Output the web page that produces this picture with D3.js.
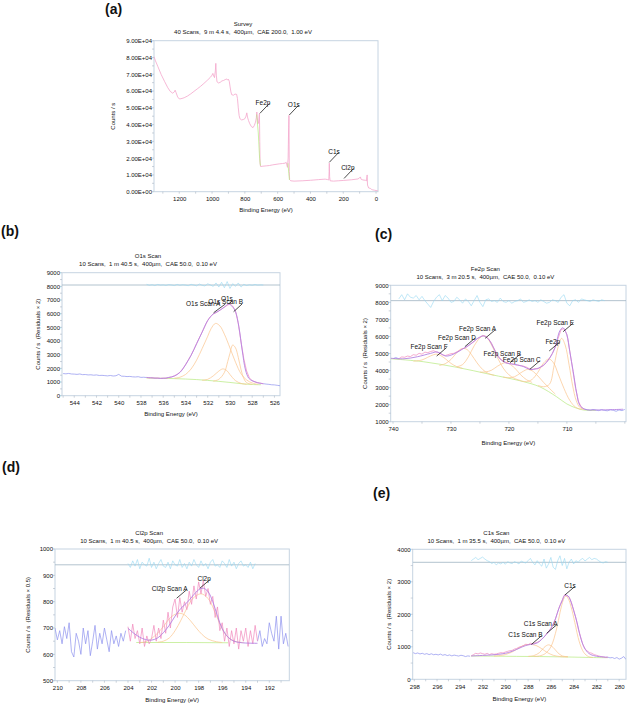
<!DOCTYPE html>
<html><head><meta charset="utf-8">
<script src="https://cdn.jsdelivr.net/npm/d3@7/dist/d3.min.js"></script>
<style>
body{margin:0;background:#fff}
svg{display:block}
text{font-family:"Liberation Sans",Arial,sans-serif;fill:#111}
</style>
</head><body>
<svg id="chart" width="628" height="705"></svg>
<script>
// ---------------- DATA ----------------
// (a) Survey spectrum [binding energy eV, counts/s]
const surveySpectrum = [[1354,80500],[1345,78000],[1330,74500],[1310,69800],[1290,65800],[1270,62000],[1255,59800],[1240,58700],[1230,59500],[1225,60500],[1220,59200],[1210,56500],[1200,55300],[1190,55400],[1170,56000],[1150,57000],[1130,58300],[1110,59800],[1090,61300],[1070,62800],[1050,64500],[1030,66300],[1010,68200],[1000,69500],[995,70500],[990,69000],[985,68000],[980,72000],[977,76500],[974,69500],[970,65500],[960,64800],[950,65200],[940,66000],[930,66300],[920,66800],[910,67200],[905,66500],[900,67000],[895,65800],[890,62500],[885,59500],[880,57800],[870,57500],[860,58200],[850,58000],[845,55500],[840,50000],[835,45500],[830,43500],[820,42800],[810,43000],[800,43500],[793,45000],[788,47000],[784,44500],[778,42500],[770,40500],[760,38800],[750,38200],[742,39500],[735,41500],[730,44000],[727,47500],[724,44000],[720,40500],[716,41500],[713,45000],[711,46500],[709,30000],[707,17000],[704,15000],[690,15200],[670,15400],[650,15600],[630,16000],[610,16300],[590,16600],[570,16800],[555,17000],[548,17500],[544,16000],[540,14500],[536,20000],[533,38000],[531,45500],[529,12000],[527,7200],[520,6500],[500,6300],[450,6500],[400,6800],[350,7200],[310,7500],[295,7200],[288,7000],[286,12000],[285,17000],[283,9000],[280,6500],[260,6300],[230,6500],[200,6700],[150,7100],[110,7600],[100,8300],[95,8800],[92,7500],[80,7000],[65,6800],[58,6500],[56,9000],[54,10000],[52,4000],[45,2200],[35,2000],[28,1400],[20,1100],[10,900],[0,700],[-10,600]];
const surveyFeBackground = [[728,46000],[718,35000],[710,20000],[705,15500]];
const surveyOBackground = [[537,17000],[532,11000],[528,7000]];
const surveyLabels = ["Fe2p","O1s","C1s","Cl2p"];
const surveyLabelAt = [[708,46700],[529,45700],[285,17500],[195,7900]];

// (b) O1s
const o1sRawBlueLeft = [1620,1600,1630,1590,1580,1560,1590,1540,1550,1520,1530,1500,1520,1480,1490,1470,1450,1480,1440,1460,1560,1430,1420,1400,1410,1380,1370,1390,1340,1350,1330]; // 545.0 -> 537.5
const o1sRawPink = [1330,1300,1320,1280,1300,1260,1290,1270,1340,1370,1450,1560,1720,1960,2260,2610,2950,3360,3810,4240,4660,5090,5510,5790,5990,6070,6210,6340,6490,6610,6710,6560,6190,5290,3920,2690,1810,1310,1090,1010,940,910,870]; // 537.5 -> 527.0
const o1sRawBlueRight = [880,850,830,800,790,760,730]; // 527.0 -> 525.5
const o1sEnvelope = [[537.5,1340],[537,1300],[536.5,1280],[536,1270],[535.5,1330],[535,1440],[534.5,1700],[534,2250],[533.5,2950],[533,3800],[532.5,4650],[532,5500],[531.5,5980],[531,6200],[530.5,6480],[530.1,6710],[529.8,6530],[529.5,6150],[529.2,5050],[528.9,3340],[528.6,1880],[528.3,1270],[528,1100],[527.5,950],[527,880]];
const o1sBackground = [[537.5,1290],[536,1270],[535,1250],[534,1220],[533,1180],[532,1120],[531,1050],[530,970],[529,880],[528,820],[527.2,800]];
const o1sCompA = [[535,1280],[534.5,1350],[534,1550],[533.5,1950],[533,2600],[532.5,3450],[532,4350],[531.7,4900],[531.3,5290],[530.9,5100],[530.5,4500],[530,3500],[529.5,2450],[529,1600],[528.5,1150],[528,930],[527.5,830]];
const o1sCompB = [[531.5,1060],[531,1200],[530.5,1700],[530.2,2500],[530,3100],[529.75,3710],[529.5,3500],[529.25,2800],[529,1900],[528.75,1250],[528.5,950],[528,830]];
const o1sCompC = [[532.5,1130],[532,1200],[531.5,1450],[531,1800],[530.65,1960],[530.3,1850],[530,1550],[529.5,1100],[529,900],[528.5,830]];
const o1sResidual = [8150,8080,8120,8060,8140,8090,8110,8070,8130,8100,8060,8140,8080,8120,8090,8050,8150,8100,8040,8170,8080,8030,8190,8100,8000,8250,7950,8300,7900,8350,7850,8200,8000,8250,7950,8150,8060,8120,8080,8140,8090,8110,8100]; // 537.5 -> 527.0
const o1sLabels = ["O1s Scan A","O1s Scan B","O1s"];
const o1sLabelAt = [[531.47,6070],[529.67,6145],[530.1,6710]];

// (c) Fe2p
const fe2pRaw = [4700,4760,4690,4800,4780,4850,4820,4930,4900,5010,4960,5080,5050,5120,5160,5090,5030,4940,4880,4930,4990,5010,5100,5180,5280,5330,5450,5580,5700,5860,5950,6060,6010,5850,5600,5250,4930,4700,4560,4480,4420,4390,4350,4320,4280,4260,4200,4110,4060,4120,4100,4200,4300,4480,4720,5000,5380,5900,6400,6460,6120,5150,4050,2950,2200,1850,1740,1700,1660,1720,1680,1650,1710,1660,1640,1700,1670,1610,1690,1650,1720]; // 740 -> 700
const fe2pEnvelope = [[740.4,4720],[738.1,4690],[735.8,4810],[733.5,5010],[732.4,5090],[730.9,4850],[729.5,4970],[728.1,5240],[726.6,5560],[725.4,5890],[724.4,6030],[723.5,5830],[722.6,5290],[721.8,4780],[720.6,4460],[719.2,4370],[717.8,4270],[716.3,4070],[715.2,4110],[714,4330],[713,4720],[712.1,5310],[711.2,6340],[710.7,6510],[710,6090],[709.5,5110],[708.9,3930],[708.3,2660],[707.8,1980],[706.9,1730],[704.9,1690],[700.3,1730]];
const fe2pBackground = [[740.4,4690],[734.8,4520],[729,4190],[723.3,3780],[717.5,3350],[714.7,3050],[711.8,2470],[710,2040],[708.3,1790],[707.2,1690],[705,1660]];
const fe2pCompF = [[736.5,4550],[735,4620],[734,4780],[733,4930],[732.5,4960],[732,4920],[731,4700],[730,4420],[729,4230],[728,4130]];
const fe2pCompD = [[732,4300],[731,4400],[730,4650],[729,5050],[728.3,5260],[727.8,5300],[727.2,5230],[726.5,4950],[725.5,4450],[724.5,4050],[723.5,3820],[722.5,3720]];
const fe2pCompA = [[729,4220],[728,4350],[727,4800],[726,5450],[725,5920],[724.4,6030],[723.8,5930],[723,5500],[722,4780],[721,4150],[720,3750],[719,3530],[718,3420]];
const fe2pCompB = [[725,3910],[724,3920],[723,4020],[722,4250],[721,4430],[720.6,4460],[720,4400],[719,4150],[718,3760],[717,3470],[716,3300]];
const fe2pCompC = [[721,3620],[720,3580],[719,3640],[718,3860],[717,4050],[716.7,4070],[716,3990],[715,3680],[714,3300],[713,2950],[712,2620]];
const fe2pCompMain = [[718,3400],[717,3350],[716,3480],[715,3900],[714,4450],[713.1,4680],[712.3,4450],[711.5,3800],[710.5,2950],[709.5,2250],[708.5,1850],[707.5,1720]];
const fe2pCompE = [[715,3130],[714,3050],[713,3200],[712.2,4300],[711.5,5400],[710.9,5890],[710.3,5500],[709.6,4300],[709,3100],[708.4,2250],[707.8,1850],[707,1700]];
const fe2pResidual = [8200,8450,8150,8500,8300,8250,8400,8150,8350,8100,7900,7700,8050,8300,8450,8100,8400,8250,8000,8050,8300,8150,7950,8200,8050,7800,8100,8400,8000,7750,8150,8200,8050,8100,8000,8250,8050,8000,8100,7950,8050,8100,8200,8000,8050,8150,8050,8100,8000,8150,8050,7950,8000,8150,8100,8000,8300,8450,7950,7800,8100,8150,8000,8200,8150,8100,8050,8150,8100,8050,8150,8100]; // 739 -> 703.5
const fe2pLabels = ["Fe2p Scan F","Fe2p Scan D","Fe2p Scan A","Fe2p Scan B","Fe2p Scan C","Fe2p","Fe2p Scan E"];
const fe2pLabelAt = [[732.47,4850],[727.6,5400],[724.1,5890],[719.8,4460],[716.4,4070],[713.05,5150],[710.65,6280]];

// (d) Cl2p
const cl2pRawBlueLeft = [700,655,690,640,705,660,720,610,590,680,650,600,700,640,690,595,650,710,620,680,640,700,655,610,690,640,670,630,680,650,690]; // 210.2 -> 204.2
const cl2pRawPink = [705,650,715,660,690,640,700,630,670,640,660,710,650,700,660,730,680,760,700,780,810,740,815,760,800,770,840,790,860,810,875,830,880,820,850,790,820,740,780,690,720,650,700,630,690,640,700,620,690,650,700,630,690,640,710,650]; // 204 -> 193
const cl2pRawBlueRight = [650,690,630,660,640,720,680,650,745,620,745,640,680,630]; // 193 -> 190.4
const cl2pEnvelope = [[204,699],[203.5,680],[203,665],[202.5,656],[202,654],[201.5,662],[201,682],[200.5,710],[200,745],[199.5,775],[199,796],[198.5,822],[198,845],[197.6,851],[197.2,838],[196.8,800],[196.4,745],[196,698],[195.5,665],[195,650],[194.5,645],[194,643],[193,642]];
const cl2pBackground = [[203.3,645],[199,645],[195.5,644]];
const cl2pCompA = [[203,645],[202.5,648],[202,660],[201.5,680],[201,705],[200.5,735],[200,752],[199.6,756],[199.2,750],[198.7,728],[198.2,700],[197.7,675],[197.2,658],[196.5,648],[196,645]];
const cl2pCompMain = [[201.5,646],[201,650],[200.5,662],[200,690],[199.5,730],[199,775],[198.5,812],[197.8,830],[197.2,812],[196.7,770],[196.2,715],[195.7,675],[195.2,655],[194.7,647],[194.2,645]];
const cl2pResidual = [945,930,955,935,960,925,950,940,935,965,930,950,925,945,960,935,930,950,925,955,940,935,960,930,945,925,950,935,960,940,930,955,935,945,925,950,960,935,940,930,955,945,930,960,935,950,925,945,955,935,940,930,950,925,945]; // 204 -> 193.2
const cl2pLabels = ["Cl2p Scan A","Cl2p"];
const cl2pLabelAt = [[199.87,813],[197.9,851]];

// (e) C1s
const c1sRawBlueLeft = [820,790,810,780,800,770,790,760,785,755,770,750,775,740,760,730,750,720,745,730,715,740,725,700,720,710]; // 298.1 -> 293.1
const c1sRawPink = [720,760,800,780,810,790,770,800,760,790,770,780,800,820,810,840,860,880,890,930,950,990,1010,1040,1080,1060,1110,1090,1120,1140,1170,1240,1300,1390,1470,1570,1700,1850,2080,2280,2440,2600,2570,2540,2370,2130,1880,1560,1320,1080,930,870,820,800,760,740,720,700,690,670,680]; // 293 -> 281
const c1sRawBlueRight = [680,660,670,640,670,620,650,700,610]; // 281 -> 279.4
const c1sEnvelope = [[293,718],[292,735],[291,755],[290,800],[289.5,850],[289,920],[288.5,1000],[288,1060],[287.6,1080],[287.2,1120],[286.8,1230],[286.4,1380],[286,1560],[285.6,1860],[285.3,2180],[285,2420],[284.8,2580],[284.6,2590],[284.4,2520],[284.2,2350],[284,2120],[283.7,1750],[283.4,1300],[283.1,1000],[282.8,840],[282.5,760],[282,710],[281.5,690],[281,680]];
const c1sBackground = [[293,718],[291,712],[289,705],[287,700],[285,690],[283,675],[282,668],[281,665]];
const c1sCompMain = [[287.5,705],[287,720],[286.5,790],[286,1000],[285.5,1550],[285.2,2050],[284.9,2450],[284.7,2560],[284.5,2500],[284.2,2200],[283.9,1750],[283.5,1150],[283.1,820],[282.7,700],[282.3,672]];
const c1sCompA = [[288,705],[287.5,730],[287,820],[286.6,980],[286.2,1060],[285.8,980],[285.4,820],[285,720],[284.5,695]];
const c1sCompB = [[291,715],[290,760],[289.3,860],[288.7,990],[288.2,1060],[287.8,1075],[287.3,1040],[286.8,940],[286.3,820],[285.8,740],[285.2,700],[284.5,690]];
const c1sResidual = [3650,3700,3750,3680,3720,3760,3700,3650,3620,3560,3600,3520,3580,3550,3600,3540,3620,3580,3560,3620,3590,3550,3640,3600,3580,3650,3720,3600,3520,3650,3550,3480,3700,3420,3550,3750,3450,3380,3650,3800,3500,3720,3400,3600,3700,3550,3650,3600,3680,3720,3640,3700,3750,3680,3720,3700,3650,3600,3580,3620,3600]; // 293 -> 281
const c1sLabels = ["C1s Scan B","C1s Scan A","C1s"];
const c1sLabelAt = [[287.7,1077],[286.37,1415],[284.77,2594]];

// ---------------- DRAWING ----------------
const C = {pink:"#f088bc", blue:"#8c90ee", env:"#b482e2", orange:"#fbc48c", green:"#b6ea7e",
           resid:"#96d6f2", residBase:"#9fb4c2", frame:"#c6d4e2", tick:"#aab6c2", survey:"#f4a6cc"};
const grid = (start, step, vals) => vals.map((v,i) => [start + i*step, v]);
const svg = d3.select("#chart");

function sci(v){ if(v===0) return "0.00E+00"; return (v/1e4).toFixed(2)+"E+04"; }

function drawPanel(p){
  const x = d3.scaleLinear().domain(p.xDomain).range([p.left, p.right]);
  const y = d3.scaleLinear().domain(p.yDomain).range([p.bottom, p.top]);
  const g = svg.append("g");
  const cid = "clip-"+p.id;
  svg.append("defs").append("clipPath").attr("id",cid).append("rect")
    .attr("x",p.left).attr("y",p.top).attr("width",p.right-p.left).attr("height",p.bottom-p.top);
  // frame
  g.append("rect").attr("x",p.left).attr("y",p.top).attr("width",p.right-p.left).attr("height",p.bottom-p.top)
    .attr("fill","none").attr("stroke",p.frameColor||C.frame).attr("stroke-width",1);
  // minor ticks
  const xt = d3.range(Math.ceil(Math.min(...p.xDomain)/p.xMinor)*p.xMinor, Math.max(...p.xDomain), p.xMinor);
  g.selectAll(null).data(xt).join("line").attr("x1",d=>x(d)).attr("x2",d=>x(d))
    .attr("y1",p.bottom).attr("y2",p.bottom+2).attr("stroke",C.tick).attr("stroke-width",0.6);
  const yt = d3.range(p.yDomain[0], p.yDomain[1]+1e-9, p.yMinor);
  g.selectAll(null).data(yt).join("line").attr("x1",p.left-2).attr("x2",p.left)
    .attr("y1",d=>y(d)).attr("y2",d=>y(d)).attr("stroke",C.tick).attr("stroke-width",0.6);
  // axes labels (d3 axes)
  const ax = g.append("g").attr("transform",`translate(0,${p.bottom})`)
    .call(d3.axisBottom(x).tickValues(p.xTicks).tickSize(0).tickPadding(5.5).tickFormat(d3.format("d")));
  const ay = g.append("g").attr("transform",`translate(${p.left},0)`)
    .call(d3.axisLeft(y).tickValues(p.yTicks).tickSize(0).tickPadding(2).tickFormat(p.yFmt||d3.format("d")));
  [ax,ay].forEach(a=>{a.select(".domain").remove(); a.selectAll("text").attr("font-size",6).attr("fill","#111")
     .style("font-family","'Liberation Sans',Arial,sans-serif");});
  // titles
  const cx = (p.left+p.right)/2;
  g.append("text").attr("x",cx-23).attr("y",p.top-14.5).attr("text-anchor","middle").attr("font-size",6).text(p.title);
  g.append("text").attr("x",cx-23).attr("y",p.top-6.5).attr("text-anchor","middle").attr("font-size",6)
    .style("white-space","pre").text(p.sub);
  g.append("text").attr("x",cx).attr("y",p.xlabY).attr("text-anchor","middle").attr("font-size",6).text("Binding Energy (eV)");
  g.append("text").attr("transform",`translate(${p.ylabX},${(p.top+p.bottom)/2}) rotate(-90)`)
    .attr("text-anchor","middle").attr("dy","0.35em").attr("font-size",6).style("white-space","pre").text(p.ylab);
  g.append("text").attr("x",p.tagX).attr("y",p.tagY).attr("font-size",14).attr("font-weight","bold").text(p.tag);
  // series
  const plot = g.append("g").attr("clip-path",`url(#${cid})`);
  const line = d3.line().x(d=>x(d[0])).y(d=>y(d[1]));
  const smooth = d3.line().x(d=>x(d[0])).y(d=>y(d[1])).curve(d3.curveCatmullRom.alpha(0.5));
  if(p.residBase!==undefined){
    plot.append("line").attr("x1",p.left).attr("x2",p.right).attr("y1",y(p.residBase)).attr("y2",y(p.residBase))
      .attr("stroke",C.residBase).attr("stroke-width",0.8);
  }
  p.series.forEach(s=>{
    plot.append("path").datum(s.data).attr("fill","none").attr("stroke",s.color)
      .attr("stroke-width",s.w||0.7).attr("stroke-linejoin","round")
      .attr("d",(s.smooth?smooth:line)(s.data));
  });
  // annotations
  p.labels.forEach((t,i)=>{
    const [e,c] = p.labelAt[i];
    const lay = (p.layout && p.layout[t]) || {};
    const v = lay.v || p.vec || [10,-8.5];
    const ts = lay.t || [1,1.5];
    const x0 = x(e), y0 = y(c), x1 = x0+v[0], y1 = y0+v[1];
    g.append("line").attr("x1",x0).attr("y1",y0).attr("x2",x1).attr("y2",y1).attr("stroke","#000").attr("stroke-width",0.7);
    g.append("text").attr("x",x1+ts[0]).attr("y",y1+ts[1]).attr("text-anchor","end").attr("font-size",6.5).text(t);
  });
}

const panels = [
 {id:"a", left:154, right:378, top:40.7, bottom:191.7, xDomain:[1354,-12], yDomain:[0,90000],
  xTicks:[1200,1000,800,600,400,200,0], yTicks:d3.range(0,90001,10000), yFmt:sci, xMinor:100, yMinor:5000,
  title:"Survey", sub:"40 Scans,  9 m 4.4 s,  400µm,  CAE 200.0,  1.00 eV", ylab:"Counts / s", ylabX:113, xlabY:212,
  tag:"(a)", tagX:105, tagY:14, vec:[9.5,-10],
  series:[{data:surveySpectrum,color:C.survey,w:0.8},{data:surveyFeBackground,color:C.green},{data:surveyOBackground,color:C.green}],
  labels:surveyLabels, labelAt:surveyLabelAt},
 {id:"b", left:62, right:280, top:272.7, bottom:395.7, xDomain:[545.1,525.5], yDomain:[0,9000],
  xTicks:d3.range(544,525,-2), yTicks:d3.range(0,9001,1000), xMinor:1, yMinor:500,
  title:"O1s Scan", sub:"10 Scans,  1 m 40.5 s,  400µm,  CAE 50.0,  0.10 eV", ylab:"Counts / s  (Residuals × 2)", ylabX:38, xlabY:415.5,
  tag:"(b)", tagX:1, tagY:236, residBase:8100,
  layout:{"O1s Scan A":{v:[11.7,-8.7],t:[-5,2]}, "O1s Scan B":{v:[8.4,-7.7],t:[1,0]}, "O1s":{v:[3,-3],t:[1,0]}},
  series:[{data:grid(537.5,-0.25,o1sResidual),color:C.resid,w:0.6},
          {data:grid(545.0,-0.25,o1sRawBlueLeft),color:C.blue},
          {data:grid(527.0,-0.25,o1sRawBlueRight),color:C.blue},
          {data:o1sBackground,color:C.green,smooth:true},
          {data:o1sCompA,color:C.orange,smooth:true},{data:o1sCompB,color:C.orange,smooth:true},{data:o1sCompC,color:C.orange,smooth:true},
          {data:grid(537.5,-0.25,o1sRawPink),color:C.pink},
          {data:o1sEnvelope,color:C.env,w:0.9,smooth:true}],
  labels:o1sLabels, labelAt:o1sLabelAt},
 {id:"c", left:390.7, right:626, top:285.3, bottom:421.7, xDomain:[740.4,699.8], yDomain:[1000,9000],
  xTicks:[740,730,720,710], yTicks:d3.range(1000,9001,1000), xMinor:5, yMinor:500,
  title:"Fe2p Scan", sub:"10 Scans,  3 m 20.5 s,  400µm,  CAE 50.0,  0.10 eV", ylab:"Counts / s  (Residuals × 2)", ylabX:364.5, xlabY:445,
  tag:"(c)", tagX:375, tagY:239, residBase:8100,
  series:[{data:grid(739,-0.5,fe2pResidual),color:C.resid,w:0.6},
          {data:grid(740,-0.5,fe2pRaw).filter(d=>d[0]>=739),color:C.blue},
          {data:grid(740,-0.5,fe2pRaw).filter(d=>d[0]<=707),color:C.blue},
          {data:fe2pBackground,color:C.green,smooth:true},
          {data:fe2pCompF,color:C.orange,smooth:true},{data:fe2pCompD,color:C.orange,smooth:true},{data:fe2pCompA,color:C.orange,smooth:true},
          {data:fe2pCompB,color:C.orange,smooth:true},{data:fe2pCompC,color:C.orange,smooth:true},{data:fe2pCompMain,color:C.orange,smooth:true},
          {data:fe2pCompE,color:C.orange,smooth:true},
          {data:grid(740,-0.5,fe2pRaw).filter(d=>d[0]<=739&&d[0]>=707),color:C.pink},
          {data:fe2pEnvelope,color:C.env,w:0.9,smooth:true}],
  labels:fe2pLabels, labelAt:fe2pLabelAt},
 {id:"d", left:55, right:289.3, top:549, bottom:680.7, xDomain:[210.2,190.3], yDomain:[500,1000],
  xTicks:d3.range(210,191,-2), yTicks:d3.range(500,1001,100), xMinor:1, yMinor:50,
  title:"Cl2p Scan", sub:"10 Scans,  1 m 40.5 s,  400µm,  CAE 50.0,  0.10 eV", ylab:"Counts / s  (Residuals × 0.5)", ylabX:27.5, xlabY:702,
  tag:"(d)", tagX:2, tagY:472, residBase:940,
  series:[{data:grid(204,-0.2,cl2pResidual),color:C.resid,w:0.6},
          {data:grid(210.2,-0.2,cl2pRawBlueLeft),color:C.blue},
          {data:grid(193,-0.2,cl2pRawBlueRight),color:C.blue},
          {data:cl2pBackground,color:C.green},
          {data:cl2pCompA,color:C.orange,smooth:true},{data:cl2pCompMain,color:C.orange,smooth:true},
          {data:grid(204,-0.2,cl2pRawPink),color:C.pink},
          {data:cl2pEnvelope,color:C.env,w:0.9,smooth:true}],
  labels:cl2pLabels, labelAt:cl2pLabelAt},
 {id:"e", left:412.7, right:626, top:549.3, bottom:679.3, xDomain:[298.14,279.4], yDomain:[0,4000],
  xTicks:d3.range(298,279,-2), yTicks:d3.range(0,4001,1000), xMinor:1, yMinor:500,
  title:"C1s Scan", sub:"10 Scans,  1 m 35.5 s,  400µm,  CAE 50.0,  0.10 eV", ylab:"Counts / s  (Residuals × 2)", ylabX:389, xlabY:701,
  tag:"(e)", tagX:373, tagY:498, residBase:3600,
  series:[{data:grid(293,-0.2,c1sResidual),color:C.resid,w:0.6},
          {data:grid(298.1,-0.2,c1sRawBlueLeft),color:C.blue},
          {data:grid(281,-0.2,c1sRawBlueRight),color:C.blue},
          {data:c1sBackground,color:C.green,smooth:true},
          {data:c1sCompMain,color:C.orange,smooth:true},{data:c1sCompA,color:C.orange,smooth:true},{data:c1sCompB,color:C.orange,smooth:true},
          {data:grid(293,-0.2,c1sRawPink),color:C.pink},
          {data:c1sEnvelope,color:C.env,w:0.9,smooth:true}],
  labels:c1sLabels, labelAt:c1sLabelAt}
];
panels.forEach(drawPanel);
</script>
</body></html>
